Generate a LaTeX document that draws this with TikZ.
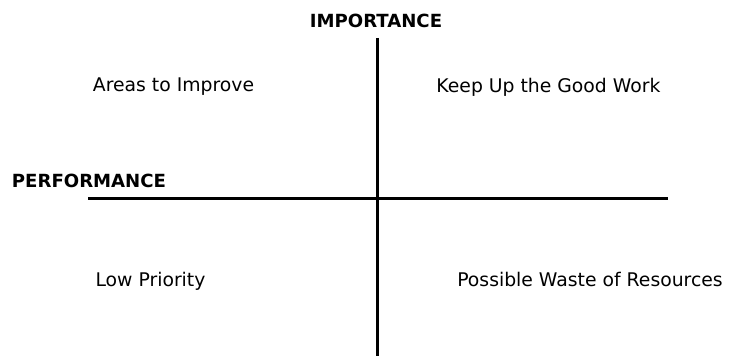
\documentclass[tikz,border=0pt]{standalone}
\usepackage{fontspec}
\setmainfont{DejaVu Sans}
\begin{document}
\begin{tikzpicture}[x=1pt,y=-1pt,
  axis/.style={line width=3pt,black},
  quad/.style={anchor=base,inner sep=0pt,font=\fontsize{18.8}{20}\selectfont},
  axlabel/.style={anchor=base,inner sep=0pt,font=\bfseries\fontsize{18.1}{20}\selectfont}]
\useasboundingbox (0,0) rectangle (732,358);
% axes
\coordinate (vtop) at (377,38);
\coordinate (vbot) at (377,356);
\coordinate (hleft) at (88,199);
\coordinate (hright) at (668,199);
\draw[axis] (vtop) -- (vbot);
\draw[axis] (hleft) -- (hright);
% axis labels
\node[axlabel] (imp) at (376,28) {IMPORTANCE};
\node[axlabel] (perf) at (89,188) {PERFORMANCE};
% quadrant labels
\node[quad] (q1) at (173.5,92) {Areas to Improve};
\node[quad] (q2) at (548.5,93) {Keep Up the Good Work};
\node[quad] (q3) at (150.5,287) {Low Priority};
\node[quad] (q4) at (590,287) {Possible Waste of Resources};
\end{tikzpicture}
\end{document}
